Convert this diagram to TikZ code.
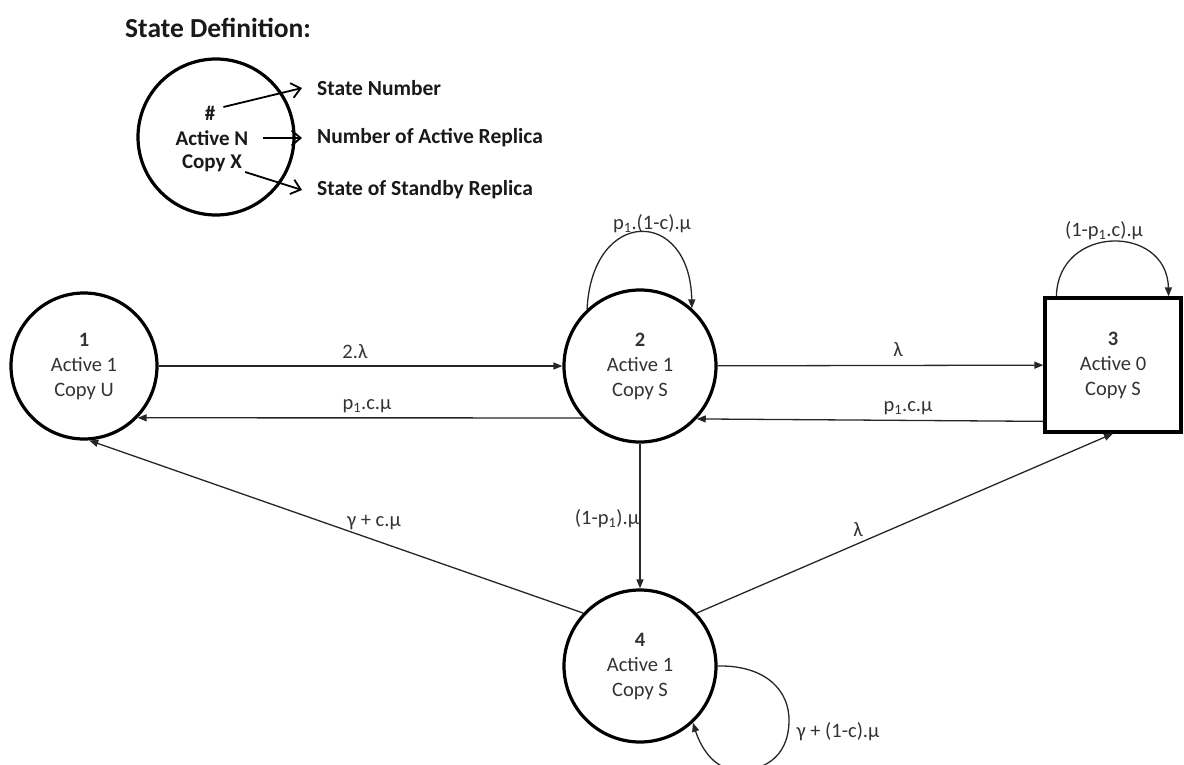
\documentclass[tikz,border=0pt]{standalone}
\usepackage{fontspec}
\setmainfont{Carlito}
\usetikzlibrary{arrows.meta,calc}
\begin{document}
\begin{tikzpicture}[x=1pt,y=-1pt,
  stcirc/.style={circle,draw=black,line width=3.2pt,inner sep=0pt,align=center,
    text=black!80,font=\fontsize{20.5}{25}\selectfont},
  stbox/.style={rectangle,draw=black,line width=3.2pt,inner sep=0pt,align=center,
    text=black!80,font=\fontsize{20.5}{25}\selectfont},
  trans/.style={line width=1.3pt,draw=black!85,-{Triangle[length=9pt,width=7pt]}},
  rate/.style={inner sep=0pt,text=black!80,font=\fontsize{20.5}{24}\selectfont},
  legtext/.style={inner sep=0pt,text=black!90,font=\fontsize{21}{25}\bfseries\selectfont},
  leglbl/.style={anchor=west,inner sep=0pt,text=black!90,font=\fontsize{21.5}{25}\bfseries\selectfont},
  legarr/.style={line width=1.8pt,-{Straight Barb[length=9pt,width=15pt,line width=1.8pt]}},
]
\useasboundingbox (0,0) rectangle (1184,765);

% legend
\node[anchor=west,inner sep=0pt,text=black!90,font=\fontsize{27.5}{30}\bfseries\selectfont]
  (title) at (125,28) {State Definition:};
\node[circle,draw=black,line width=3.2pt,minimum size=156pt,inner sep=0pt] (legc) at (216,137) {};
\node[legtext] (hash) at (210,113) {\#};
\node[legtext] (actn) at (212,138) {Active N};
\node[legtext] (copx) at (212,163) {Copy X};
\node[leglbl] (lnum) at (317,88) {State Number};
\node[leglbl] (lact) at (317,138) {Number of Active Replica};
\node[leglbl] (lsby) at (317,190) {State of Standby Replica};
\draw[legarr] ([shift={(8pt,6pt)}]hash.east) -- ([xshift=-15pt]lnum.west);
\draw[legarr] ([xshift=14pt]actn.east) -- ([xshift=-15pt]lact.west);
\draw[legarr] ([shift={(3pt,-9pt)}]copx.east) -- ([xshift=-15pt]lsby.west);

% states
\node[stcirc,minimum size=146pt] (n1) at (84,366) {\textbf{1}\\Active 1\\Copy U};
\node[stcirc,minimum size=152pt] (n2) at (640,366) {\textbf{2}\\Active 1\\Copy S};
\node[stbox,minimum width=136pt,minimum height=134pt] (n3) at (1113,365) {\textbf{3}\\Active 0\\Copy S};
\node[stcirc,minimum size=152pt] (n4) at (640,666) {\textbf{4}\\Active 1\\Copy S};

% transitions
\draw[trans] (n1) -- (n2);
\draw[trans] (n2.222) -- (n1.316);
\draw[trans] (n2) -- (n3);
\draw[trans] (n3.219.5) -- (n2.317.5);
\draw[trans] (n2) -- (n4);
\draw[trans] (n4.137) -- (n1.274);
\draw[trans] (n4.43.5) -- (n3.south);

% self loops
\draw[trans] (n2.133) .. controls (592,207) and (690,207) .. (n2.48.5);
\draw[trans] ($(n3.north west)+(13,0)$) .. controls (1058,224) and (1167,224) .. ($(n3.north east)+(-14,0)$);
\draw[trans] (n4.0) .. controls (765,665) and (790,690) .. (789,722)
  .. controls (788,760) and (760,772) .. (735,770)
  .. controls (712,768) and (700,745) .. (n4.313.5);

% rates
\node[rate] (r12) at (355,352) {2.λ};
\node[rate] (r21) at (367,406) {p\textsubscript{1}.c.μ};
\node[rate] (r23) at (898,350) {λ};
\node[rate] (r32) at (908,408) {p\textsubscript{1}.c.μ};
\node[rate] (r24) at (607,519) {(1-p\textsubscript{1}).μ};
\node[rate] (r41) at (374,523) {γ + c.μ};
\node[rate] (r43) at (858,530) {λ};
\node[rate] (r22) at (652,224) {p\textsubscript{1}.(1-c).μ};
\node[rate] (r33) at (1104,231) {(1-p\textsubscript{1}.c).μ};
\node[rate] (r44) at (838,732) {γ + (1-c).μ};
\end{tikzpicture}
\end{document}
